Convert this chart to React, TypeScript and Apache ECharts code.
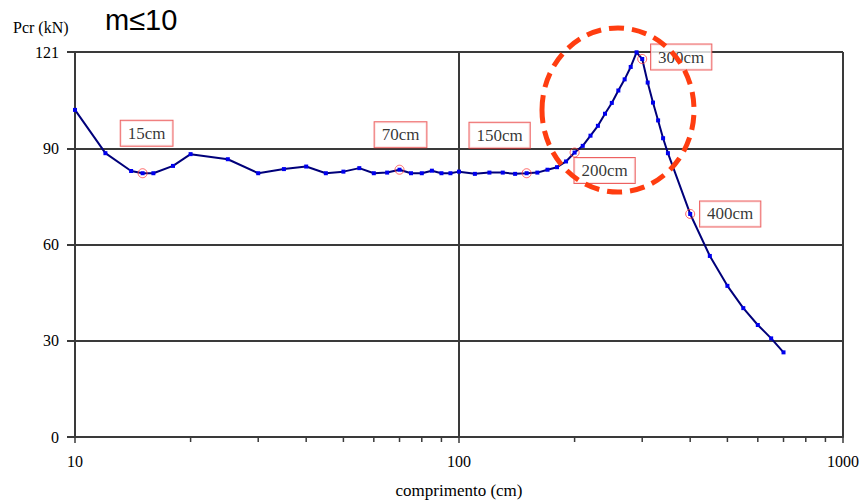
import { useEffect, useRef } from 'react';
import * as echarts from 'echarts';

const lengths = [10, 12, 14, 15, 16, 18, 20, 25, 30, 35, 40, 45, 50, 55, 60, 65, 70, 75, 80, 85, 90, 95, 100, 110, 120, 130, 140, 150, 160, 170, 180, 190, 200, 210, 220, 230, 240, 250, 260, 270, 280, 290, 300, 310, 320, 330, 340, 350, 400, 450, 500, 550, 600, 650, 700];
const pcr = [102.8, 89.2, 83.6, 82.9, 82.9, 85.2, 88.9, 87.3, 82.9, 84.2, 85.0, 82.9, 83.4, 84.5, 82.9, 83.1, 84.0, 82.9, 82.9, 83.7, 82.9, 82.9, 83.4, 82.7, 83.1, 83.1, 82.7, 82.9, 83.1, 84.0, 84.8, 86.6, 89.4, 91.5, 94.7, 97.8, 101.6, 105.0, 108.9, 112.4, 116.3, 120.9, 118.8, 111.4, 105.1, 99.5, 93.9, 89.2, 70.1, 56.9, 47.5, 40.5, 35.2, 31.0, 26.6];
const highlighted = [15, 70, 150, 200, 300, 400];
const minorTickValues = [20, 30, 40, 50, 60, 70, 80, 90, 200, 300, 400, 500, 600, 700, 800, 900];
const yTickLabels = ['0', '30', '60', '90', '121'];

// label placement (styling only)
const labelOffsets: Record<number, [number, number]> = {
  15: [4, -40],
  70: [1, -35],
  150: [-27, -38],
  200: [30, 18],
  300: [39, -2],
  400: [40, 0],
};

const SERIF = '"Liberation Serif", "Times New Roman", serif';
const GRID = '#3a3a3a';

export default function App() {
  const ref = useRef<HTMLDivElement>(null);
  useEffect(() => {
    const chart = echarts.init(ref.current!, null, { renderer: 'svg' });
    const lineData = lengths.map((x, i) => [x, pcr[i]]);
    const hlData = highlighted.map((x) => {
      const i = lengths.indexOf(x);
      return {
        value: [x, pcr[i]],
        label: {
          show: true,
          position: 'inside',
          offset: labelOffsets[x],
          formatter: `${x}cm`,
        },
      };
    });
    const yMax = 121;
    const option: any = {
      animation: false,
      backgroundColor: '#ffffff',
      grid: { left: 75, right: 19, top: 52, bottom: 66, outerBoundsMode: 'none' },
      xAxis: {
        type: 'log',
        logBase: 10,
        min: 10,
        max: 1000,
        name: 'comprimento (cm)',
        nameLocation: 'middle',
        nameGap: 45,
        nameTextStyle: { fontFamily: SERIF, fontSize: 17, color: '#000' },
        axisLine: { show: true, lineStyle: { color: GRID, width: 2 } },
        axisTick: { show: true, length: 6, lineStyle: { color: GRID, width: 1.5 } },
        axisLabel: {
          fontFamily: SERIF,
          fontSize: 16,
          color: '#000',
          margin: 16,
          formatter: (v: number) => String(Math.round(v)),
        },
        splitLine: { show: true, lineStyle: { color: GRID, width: 2 } },
        minorTick: { show: false },
      },
      yAxis: {
        type: 'value',
        min: 0,
        max: yMax,
        interval: yMax / 4,
        axisLine: { show: true, lineStyle: { color: GRID, width: 2 } },
        axisTick: { show: true, length: 8, lineStyle: { color: GRID, width: 2 } },
        axisLabel: {
          fontFamily: SERIF,
          fontSize: 16,
          color: '#000',
          margin: 16,
          formatter: (v: number) => yTickLabels[Math.round(v / (yMax / 4))],
        },
        splitLine: { show: true, lineStyle: { color: GRID, width: 2 } },
      },
      graphic: [
        {
          type: 'text',
          left: 105,
          top: 5,
          style: { text: 'm≤10', font: '29px "Liberation Sans", Arial, sans-serif', fill: '#000' },
        },
        {
          type: 'text',
          left: 13,
          top: 19,
          style: { text: 'Pcr (kN)', font: `16px ${SERIF}`, fill: '#000' },
        },
        {
          type: 'ellipse',
          shape: { cx: 618, cy: 110, rx: 76, ry: 82 },
          z: 100,
          style: { fill: 'none', stroke: '#ff3d10', lineWidth: 5, lineDash: [15, 8] },
        },
      ],
      series: [
        {
          type: 'custom',
          silent: true,
          clip: false,
          data: minorTickValues.map((v) => [v, 0]),
          renderItem: (params: any, api: any) => {
            const p = api.coord([api.value(0), 0]);
            return {
              type: 'line',
              shape: { x1: p[0], y1: p[1], x2: p[0], y2: p[1] + 5 },
              style: { stroke: GRID, lineWidth: 1.5 },
            };
          },
          z: 1,
        },
        {
          type: 'line',
          data: lineData,
          symbol: 'rect',
          symbolSize: 4,
          showSymbol: true,
          itemStyle: { color: '#0000ee' },
          lineStyle: { color: '#00007a', width: 2 },
          z: 3,
        },
        {
          type: 'scatter',
          data: hlData,
          symbol: 'circle',
          symbolSize: 9,
          itemStyle: { color: 'rgba(0,0,0,0)', borderColor: '#ff4040', borderWidth: 1 },
          label: {
            fontFamily: SERIF,
            fontSize: 17,
            color: '#000',
            backgroundColor: '#ffffff',
            borderColor: '#e83a3a',
            borderWidth: 1,
            padding: [4, 7, 3, 7],
            lineHeight: 18,
          },
          z: 4,
        },
      ],
    };
    chart.setOption(option);
    return () => chart.dispose();
  }, []);
  return <div ref={ref} style={{ position: 'fixed', left: 0, top: 0, width: 862, height: 503 }} />;
}
